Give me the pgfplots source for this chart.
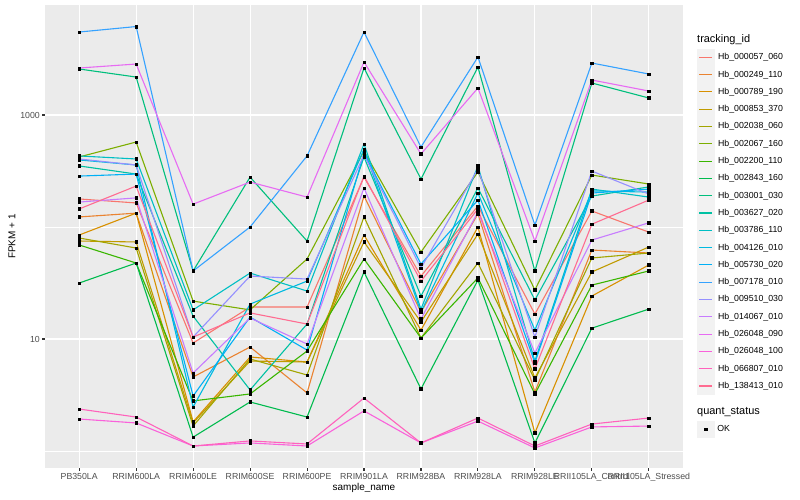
\documentclass[border=0pt]{standalone}
\usepackage{pgfplots}
\pgfplotsset{compat=1.18}
\usepackage{pgfplotstable}
\usepackage{fontspec}
\setmainfont{Liberation Sans}
\definecolor{c1}{HTML}{F8766D}
\definecolor{c2}{HTML}{EA8331}
\definecolor{c3}{HTML}{D89000}
\definecolor{c4}{HTML}{C09B00}
\definecolor{c5}{HTML}{A3A500}
\definecolor{c6}{HTML}{7CAE00}
\definecolor{c7}{HTML}{39B600}
\definecolor{c8}{HTML}{00BB4E}
\definecolor{c9}{HTML}{00BF7D}
\definecolor{c10}{HTML}{00C1A3}
\definecolor{c11}{HTML}{00BFC4}
\definecolor{c12}{HTML}{00BAE0}
\definecolor{c13}{HTML}{00B0F6}
\definecolor{c14}{HTML}{35A2FF}
\definecolor{c15}{HTML}{9590FF}
\definecolor{c16}{HTML}{C77CFF}
\definecolor{c17}{HTML}{E76BF3}
\definecolor{c18}{HTML}{FA62DB}
\definecolor{c19}{HTML}{FF62BC}
\definecolor{c20}{HTML}{FF6C91}
\definecolor{panelgray}{HTML}{EBEBEB}
\definecolor{keygray}{HTML}{F2F2F2}
\definecolor{gray20}{HTML}{333333}
\definecolor{gray30}{HTML}{4D4D4D}

\pgfplotstableread{
x S1 S2 S3 S4 S5 S6 S7 S8 S9 S10 S11 S12 S13 S14 S15 S16 S17 S18 S19 S20
0 178 123 84.8 75 79.8 422 69.1 31.6 2575 351 431 397 285 5508 405 167 2628 1.93 2.37 145
1 164 133 133 73.5 64.9 574 47.7 47.7 2183 297 405 358 297 6166 358 182 2853 1.78 2.01 232
2 9.21 4.58 1.82 1.78 1.67 21.8 2.80 1.33 40.5 16.0 18.2 2.47 3.10 40.5 10.4 4.97 160 1.108 1.108 10.4
3 19.3 8.48 6.91 6.36 6.63 18.2 3.23 2.74 279 3.51 38.8 20.5 15.7 100 36.5 15.4 252 1.18 1.23 17.1
4 19.3 3.30 6.23 6.23 4.77 51.8 7.81 2.01 75 13.6 26.8 32.9 7.97 431 34.3 9.02 185 1.108 1.155 13.6
5 279 189 84.8 73.5 123 477 51.8 39.7 2628 422 551 497 458 5508 440 223 2973 2.28 2.97 285
6 36.5 17.4 12.0 14.2 10.2 59.8 10.2 3.58 268 24.2 18.5 17.4 46.7 518 43.0 15.1 449 1.18 1.18 32.9
7 154 131 100 86.6 47.7 310 35.1 33.6 2683 223 351 201 174 3296 330 136 1742 1.85 1.97 145
8 16.7 3.36 1.45 4.49 4.30 27.4 3.23 1.18 40.5 22.3 6.36 12.0 6.11 104 10.4 7.50 75 1.064 1.108 5.40
9 139 62.3 24.2 39.7 52.9 291 30.3 12.5 1931 189 218 210 201 2912 316 76.5 2054 1.64 1.74 106
10 90 58.6 45.8 66.3 58.6 242 40.5 18.5 1419 228 185 205 218 2323 197 109 1638 1.67 1.97 174
}\datatable

\begin{document}
\begin{tikzpicture}
\useasboundingbox (0,0) rectangle (800bp,500bp);
\begin{axis}[
  at={(45bp,32bp)}, anchor=south west,
  scale only axis, width=638bp, height=463bp,
  ymode=log, ymin=0.705, ymax=9600,
  xmin=-0.6, xmax=10.6,
  xtick={0,...,10},
  xticklabels={PB350LA,RRIM600LA,RRIM600LE,RRIM600SE,RRIM600PE,RRIM901LA,RRIM928BA,RRIM928LA,RRIM928LE,RRII105LA\_Control,RRII105LA\_Stressed},
  ytick={10,1000}, yticklabels={10,1000},
  minor ytick={1,100},
  xtick pos=bottom, ytick pos=left,
  xmajorgrids, ymajorgrids, yminorgrids,
  major grid style={white, line width=1.07bp},
  minor grid style={white, line width=0.53bp},
  axis line style={draw=none},
  axis background/.style={fill=panelgray},
  tick align=outside, major tick length=2.75bp, minor tick length=0pt,
  tick style={color=gray20, line width=1.07bp},
  ticklabel style={font=\fontsize{8.8}{10}\selectfont, text=gray30},
  xticklabel style={inner sep=0pt, anchor=north, yshift=-2.2bp},
  yticklabel style={inner sep=0pt, anchor=east, xshift=-2.2bp},
  xlabel={sample\_name}, ylabel={FPKM + 1},
  label style={font=\fontsize{11}{13}\selectfont},
  every axis x label/.style={at={(axis description cs:0.5,0)}, anchor=center, yshift=-20bp},
  every axis y label/.style={at={(axis description cs:0,0.5)}, anchor=center, rotate=90, yshift=33bp},
  legend entries={Hb\_000057\_060,Hb\_000249\_110,Hb\_000789\_190,Hb\_000853\_370,Hb\_002038\_060,Hb\_002067\_160,Hb\_002200\_110,Hb\_002843\_160,Hb\_003001\_030,Hb\_003627\_020,Hb\_003786\_110,Hb\_004126\_010,Hb\_005730\_020,Hb\_007178\_010,Hb\_009510\_030,Hb\_014067\_010,Hb\_026048\_090,Hb\_026048\_100,Hb\_066807\_010,Hb\_138413\_010},
  legend style={at={(1.02194,0.906)}, anchor=north west, draw=none, fill=none, inner sep=0pt, outer sep=0pt, row sep=-0.2bp, column sep=3.4bp, font=\fontsize{8.8}{10}\selectfont, nodes={inner sep=0pt, outer sep=0pt}},
  legend cell align=left,
  legend image code/.code={\fill[keygray] (0bp,-8.2bp) rectangle (16.6bp,8.2bp); \draw[#1] (1.7bp,0bp) -- (14.9bp,0bp);},
]
\pgfplotsinvokeforeach{1,...,20}{
  \addplot[color=c#1, line width=1.1bp, mark=none] table[x=x, y=S#1]{\datatable};
}
\pgfplotsinvokeforeach{1,...,20}{
  \addplot[only marks, mark=square*, mark size=1.3bp, black, forget plot] table[x=x, y=S#1]{\datatable};
}
\end{axis}
\begin{axis}[
  at={(45bp,32bp)}, anchor=south west,
  scale only axis, width=638bp, height=463bp,
  hide axis, xmin=0, xmax=1, ymin=0, ymax=1,
  legend style={at={(1.02194,0.1015)}, anchor=north west, draw=none, fill=none, inner sep=0pt, outer sep=0pt, column sep=3.4bp, font=\fontsize{8.8}{10}\selectfont, nodes={inner sep=0pt, outer sep=0pt}},
  legend cell align=left,
  legend image code/.code={\fill[keygray] (0bp,-8.2bp) rectangle (16.6bp,8.2bp); \draw[#1] plot coordinates {(8.3bp,0bp)};},
]
\addlegendimage{only marks, mark=square*, mark size=1.2bp, black}
\addlegendentry{OK}
\end{axis}
\node[anchor=west, inner sep=0pt, font=\fontsize{11}{13}\selectfont] at (697bp,460bp) {tracking\_id};
\node[anchor=west, inner sep=0pt, font=\fontsize{11}{13}\selectfont] at (697bp,88bp) {quant\_status};
\end{tikzpicture}
\end{document}
